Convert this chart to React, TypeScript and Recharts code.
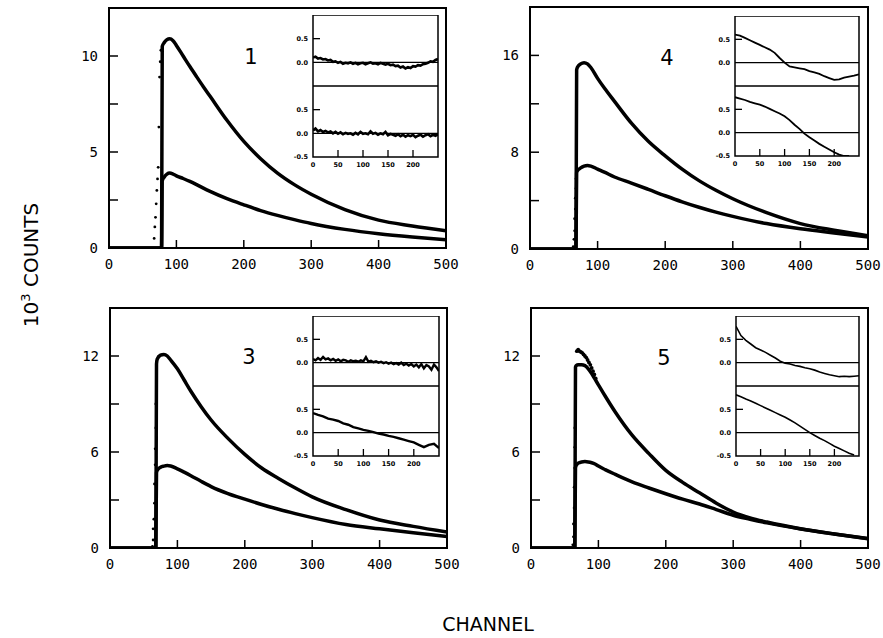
import React from "react";
import { ComposedChart, Line, Scatter, XAxis, YAxis, ReferenceArea, ReferenceLine } from "recharts";

const MONO = "'DejaVu Sans Mono', monospace";
const SANS = "'DejaVu Sans', sans-serif";

const xTicks = [0, 100, 200, 300, 400, 500];
const resTicks = [0, 50, 100, 150, 200];
const resCh10 = [0, 10, 20, 30, 40, 50, 60, 70, 80, 90, 100, 110, 120, 130, 140, 150, 160, 170, 180, 190, 200, 210, 220, 230, 240, 250];
const resCh5 = [
  0, 5, 10, 15, 20, 25, 30, 35, 40, 45, 50, 55, 60, 65, 70, 75, 80, 85, 90, 95, 100, 105, 110, 115, 120, 125,
  130, 135, 140, 145, 150, 155, 160, 165, 170, 175, 180, 185, 190, 195, 200, 205, 210, 215, 220, 225, 230, 235,
  240, 245, 250,
];

// panel 1
const p1Channels = [0, 78, 79, 82, 86, 90, 95, 100, 110, 120, 130, 140, 150, 175, 200, 225, 250, 275, 300, 350, 400, 450, 500];
const p1Upper = [0, 0, 10.5, 10.7, 10.85, 10.9, 10.8, 10.55, 10.0, 9.45, 8.92, 8.4, 7.9, 6.65, 5.55, 4.65, 3.9, 3.3, 2.8, 2.0, 1.45, 1.15, 0.9];
const p1Lower = [0, 0, 3.5, 3.7, 3.85, 3.9, 3.85, 3.76, 3.62, 3.47, 3.3, 3.12, 2.95, 2.57, 2.25, 1.95, 1.7, 1.48, 1.28, 0.97, 0.74, 0.57, 0.43];
const p1RiseCh = [67, 68, 69, 70, 71, 72, 73, 74, 75, 76, 77];
const p1RiseVal = [0.5, 1.1, 1.6, 2.3, 3.0, 3.6, 4.2, 6.3, 8.9, 9.7, 10.3];
const p1ResTop = [
  0.1, 0.12, 0.08, 0.09, 0.06, 0.07, 0.04, 0.05, 0.01, 0.02,
  -0.01, 0.01, -0.03, -0.01, -0.02, 0.0, -0.03, -0.01, -0.04, -0.02,
  -0.01, -0.04, -0.02, 0.0, -0.03, -0.02, -0.04, -0.01, -0.03, -0.05,
  -0.03, -0.06, -0.05, -0.08, -0.07, -0.11, -0.09, -0.13, -0.1, -0.12,
  -0.08, -0.09, -0.06, -0.07, -0.04, -0.03, -0.01, 0.02, 0.01, 0.05, 0.07,
];
const p1ResBottom = [
  0.06, 0.1, 0.04, 0.07, 0.03, 0.05, 0.02, 0.04, 0.0, 0.03,
  -0.01, 0.02, -0.02, 0.01, -0.01, 0.0, -0.03, 0.01, -0.02, 0.03,
  -0.01, 0.0, -0.02, 0.04, -0.01, 0.01, -0.03, 0.0, -0.02, 0.03,
  -0.04, -0.01, -0.03, -0.05, -0.02, -0.06, -0.03, -0.07, -0.04, -0.06,
  -0.03, -0.08, -0.05, -0.03, -0.07, -0.04, -0.02, -0.06, -0.03, -0.05, -0.02,
];

// panel 4
const p4Channels = [0, 68, 69, 70, 75, 80, 85, 90, 100, 110, 125, 150, 175, 200, 225, 250, 275, 300, 350, 400, 450, 500];
const p4Upper = [0, 0, 14.8, 15.0, 15.3, 15.4, 15.3, 15.0, 14.1, 13.3, 12.2, 10.4, 8.9, 7.7, 6.6, 5.65, 4.85, 4.15, 3.0, 2.1, 1.55, 1.1];
const p4Lower = [0, 0, 6.3, 6.45, 6.7, 6.85, 6.9, 6.85, 6.6, 6.35, 5.95, 5.45, 4.93, 4.4, 3.9, 3.45, 3.05, 2.7, 2.1, 1.67, 1.33, 1.0];
const p4RiseCh = [64, 65, 66, 66, 67, 67, 68, 68];
const p4RiseVal = [0.2, 0.8, 1.5, 2.5, 3.3, 4.2, 5.0, 5.8];
const p4ResTop = [0.6, 0.58, 0.53, 0.48, 0.43, 0.38, 0.33, 0.28, 0.21, 0.1, 0.0, -0.08, -0.1, -0.12, -0.14, -0.18, -0.21, -0.24, -0.29, -0.33, -0.37, -0.36, -0.32, -0.3, -0.28, -0.25];
const p4ResBottom = [0.76, 0.73, 0.7, 0.66, 0.63, 0.6, 0.56, 0.51, 0.46, 0.41, 0.35, 0.27, 0.17, 0.08, -0.02, -0.1, -0.17, -0.24, -0.3, -0.36, -0.42, -0.47, -0.5, -0.5];

// panel 3
const p3Channels = [0, 68, 69, 70, 75, 80, 85, 90, 100, 110, 120, 135, 150, 175, 200, 225, 250, 275, 300, 350, 400, 450, 500];
const p3Upper = [0, 0, 11.5, 11.8, 12.05, 12.1, 12.0, 11.75, 11.2, 10.5, 9.8, 8.85, 8.0, 6.85, 5.85, 5.0, 4.35, 3.75, 3.2, 2.4, 1.75, 1.35, 1.0];
const p3Lower = [0, 0, 4.7, 4.85, 5.05, 5.12, 5.15, 5.12, 4.95, 4.74, 4.52, 4.17, 3.84, 3.4, 3.05, 2.72, 2.42, 2.15, 1.9, 1.47, 1.2, 0.95, 0.72];
const p3RiseCh = [63, 64, 64, 65, 66, 66, 67, 67, 68, 68];
const p3RiseVal = [0.1, 0.5, 1.2, 1.8, 2.8, 4.0, 5.2, 6.2, 7.5, 9.0];
const p3ResTop = [
  0.08, 0.05, 0.1, 0.06, 0.12, 0.07, 0.09, 0.05, 0.08, 0.04,
  0.07, 0.03, 0.06, 0.05, 0.02, 0.05, 0.03, 0.04, 0.02, 0.05,
  0.03, 0.12, 0.02, 0.04, 0.01, 0.03, 0.0, 0.02, -0.01, 0.01,
  -0.02, 0.0, -0.03, -0.01, -0.04, 0.0, -0.05, -0.02, -0.06, -0.03,
  -0.08, -0.04, -0.1, -0.03, -0.12, -0.05, -0.08, -0.15, -0.04, -0.1, -0.18,
];
const p3ResBottom = [0.42, 0.38, 0.35, 0.3, 0.28, 0.25, 0.2, 0.17, 0.12, 0.09, 0.06, 0.04, 0.01, -0.02, -0.04, -0.07, -0.09, -0.12, -0.15, -0.18, -0.21, -0.26, -0.31, -0.26, -0.24, -0.33];

// panel 5
const p5Channels = [0, 65, 66, 67, 70, 75, 80, 85, 90, 95, 100, 110, 125, 150, 175, 200, 225, 250, 275, 300, 325, 350, 400, 450, 500];
const p5Upper = [0, 0, 11.3, 11.4, 11.45, 11.45, 11.4, 11.2, 10.9, 10.55, 10.2, 9.5, 8.5, 7.05, 5.9, 4.85, 4.1, 3.45, 2.8, 2.25, 1.88, 1.62, 1.2, 0.88, 0.6];
const p5Lower = [0, 0, 5.0, 5.15, 5.3, 5.38, 5.4, 5.38, 5.33, 5.25, 5.12, 4.9, 4.6, 4.13, 3.75, 3.39, 3.05, 2.75, 2.4, 2.05, 1.8, 1.57, 1.19, 0.87, 0.57];
const p5RiseCh = [62, 63, 63, 64, 64, 65, 65, 65, 66, 66];
const p5RiseVal = [0.2, 0.7, 1.5, 2.5, 3.8, 5.0, 6.3, 7.5, 8.8, 10.0];
const p5PeakCh = [68, 70, 72, 74, 76, 78, 80, 82, 84, 86, 88, 90, 92, 94, 96];
const p5PeakVal = [12.3, 12.4, 12.3, 12.25, 12.2, 12.1, 12.0, 11.9, 11.75, 11.6, 11.45, 11.25, 11.05, 10.85, 10.6];
const p5ResTop = [0.78, 0.58, 0.48, 0.4, 0.32, 0.27, 0.22, 0.16, 0.1, 0.03, -0.01, -0.03, -0.06, -0.08, -0.11, -0.13, -0.16, -0.2, -0.23, -0.26, -0.28, -0.3, -0.29, -0.3, -0.29, -0.28];
const p5ResBottom = [0.81, 0.77, 0.72, 0.68, 0.63, 0.58, 0.53, 0.48, 0.43, 0.38, 0.33, 0.27, 0.21, 0.14, 0.07, 0.0, -0.06, -0.12, -0.17, -0.23, -0.29, -0.34, -0.39, -0.44, -0.48];

function pts(xs: number[], ys: number[]) {
  return ys.map((y, i) => ({ x: xs[i], y }));
}

const SmallDot = (props: any) => <circle cx={props.cx} cy={props.cy} r={1.4} fill="#000" />;
const PeakDot = (props: any) => <circle cx={props.cx} cy={props.cy} r={1.9} fill="#000" />;

type PanelProps = {
  left: number;
  top: number;
  w: number;
  h: number;
  yMax: number;
  yTicks: number[];
  yLabeled: number[];
  channels: number[];
  upper: number[];
  lower: number[];
  riseCh: number[];
  riseVal: number[];
  peakCh?: number[];
  peakVal?: number[];
};

const PAD_L = 50;
const PAD_T = 6;
const PAD_R = 22;
const AX_H = 30;

function Panel(p: PanelProps) {
  const BottomTick = ({ x, y, payload }: any) => (
    <g>
      {payload.value > 0 && payload.value < 500 && (
        <line x1={x} x2={x} y1={y} y2={y - 8} stroke="#000" strokeWidth={1.5} />
      )}
      <text x={x} y={y + 16} dy="0.35em" textAnchor="middle" fontFamily={MONO} fontSize={14} fill="#000">
        {payload.value}
      </text>
    </g>
  );
  const LeftTick = ({ x, y, payload }: any) => (
    <g>
      {payload.value > 0 && <line x1={x} x2={x + 9} y1={y} y2={y} stroke="#000" strokeWidth={1.5} />}
      {p.yLabeled.includes(payload.value) && (
        <text x={x - 11} y={y} dy="0.35em" textAnchor="end" fontFamily={MONO} fontSize={14} fill="#000">
          {payload.value}
        </text>
      )}
    </g>
  );
  return (
    <div style={{ position: "absolute", left: p.left - PAD_L, top: p.top - PAD_T }}>
      <ComposedChart
        width={p.w + PAD_L + PAD_R}
        height={p.h + PAD_T + AX_H}
        margin={{ top: PAD_T, right: PAD_R, left: 0, bottom: 0 }}
      >
        <XAxis
          type="number"
          dataKey="x"
          domain={[0, 500]}
          ticks={xTicks}
          interval={0}
          tickSize={0}
          tickMargin={0}
          axisLine={false}
          tickLine={false}
          tick={BottomTick}
          height={AX_H}
          allowDataOverflow
        />
        <YAxis
          type="number"
          dataKey="y"
          domain={[0, p.yMax]}
          ticks={p.yTicks}
          interval={0}
          tickSize={0}
          tickMargin={0}
          axisLine={false}
          tickLine={false}
          tick={LeftTick}
          width={PAD_L}
          allowDataOverflow
        />
        <ReferenceArea x1={0} x2={500} y1={0} y2={p.yMax} fill="none" stroke="#000" strokeWidth={2} />
        <Line data={pts(p.channels, p.upper)} dataKey="y" type="monotone" stroke="#000" strokeWidth={3.5} dot={false} isAnimationActive={false} />
        <Line data={pts(p.channels, p.lower)} dataKey="y" type="monotone" stroke="#000" strokeWidth={3.5} dot={false} isAnimationActive={false} />
        <Scatter data={pts(p.riseCh, p.riseVal)} dataKey="y" shape={SmallDot} isAnimationActive={false} />
        {p.peakCh && p.peakVal && (
          <Scatter data={pts(p.peakCh, p.peakVal)} dataKey="y" shape={PeakDot} isAnimationActive={false} />
        )}
      </ComposedChart>
    </div>
  );
}

type ResProps = {
  left: number;
  top: number;
  w: number;
  h: number;
  channels: number[];
  values: number[];
  showLabels: boolean;
  yTicks: number[];
  lineW: number;
};

function Residual(r: ResProps) {
  const YW = 26;
  const XH = r.showLabels ? 14 : 0;
  const XTick = ({ x, y, payload }: any) => (
    <g>
      {payload.value > 0 && <line x1={x} x2={x} y1={y} y2={y - 7} stroke="#000" strokeWidth={1.3} />}
      {r.showLabels && (
        <text x={x} y={y + 8} dy="0.35em" textAnchor="middle" fontFamily={SANS} fontSize={6.5} fontWeight={700} fill="#000">
          {payload.value}
        </text>
      )}
    </g>
  );
  const YTick = ({ x, y, payload }: any) => (
    <g>
      {payload.value === 0.5 && <line x1={x} x2={x + 7} y1={y} y2={y} stroke="#000" strokeWidth={1.3} />}
      <text x={x - 5} y={y} dy="0.35em" textAnchor="end" fontFamily={SANS} fontSize={6.5} fontWeight={700} fill="#000">
        {payload.value.toFixed(1)}
      </text>
    </g>
  );
  return (
    <div style={{ position: "absolute", left: r.left - YW, top: r.top }}>
      <ComposedChart width={YW + r.w + 2} height={r.h + XH} margin={{ top: 0, right: 2, left: 0, bottom: 0 }}>
        <XAxis
          type="number"
          dataKey="x"
          domain={[0, 250]}
          ticks={resTicks}
          interval={0}
          tickSize={0}
          tickMargin={0}
          axisLine={false}
          tickLine={false}
          tick={XTick}
          height={XH}
          allowDataOverflow
        />
        <YAxis
          type="number"
          dataKey="y"
          domain={[-0.5, 1]}
          ticks={r.yTicks}
          interval={0}
          tickSize={0}
          tickMargin={0}
          axisLine={false}
          tickLine={false}
          tick={YTick}
          width={YW}
          allowDataOverflow
        />
        <ReferenceArea x1={0} x2={250} y1={-0.5} y2={1} fill="none" stroke="#000" strokeWidth={1.5} />
        <ReferenceLine y={0} stroke="#000" strokeWidth={1.3} />
        <Line data={pts(r.channels, r.values)} dataKey="y" type="linear" stroke="#000" strokeWidth={r.lineW} dot={false} isAnimationActive={false} />
      </ComposedChart>
    </div>
  );
}

function Inset({ left, top, w, h, ch1, top1, ch2, bottom2, lineW }: any) {
  return (
    <>
      <Residual left={left} top={top} w={w} h={h} channels={ch1} values={top1} showLabels={false} yTicks={[0, 0.5]} lineW={lineW} />
      <Residual left={left} top={top + h} w={w} h={h} channels={ch2} values={bottom2} showLabels yTicks={[-0.5, 0, 0.5]} lineW={lineW} />
    </>
  );
}

const Tag = ({ x, y, text }: { x: number; y: number; text: string }) => (
  <div
    style={{
      position: "absolute",
      left: x,
      top: y,
      transform: "translate(-50%, -50%)",
      fontFamily: SANS,
      fontSize: 21,
      lineHeight: 1,
    }}
  >
    {text}
  </div>
);

export default function App() {
  return (
    <div style={{ position: "absolute", left: 0, top: 0, width: 883, height: 638, background: "#fff", overflow: "hidden" }}>
      <Panel left={109} top={8} w={337} h={240} yMax={12.5} yTicks={[0, 2.5, 5, 7.5, 10]} yLabeled={[0, 5, 10]}
        channels={p1Channels} upper={p1Upper} lower={p1Lower} riseCh={p1RiseCh} riseVal={p1RiseVal} />
      <Panel left={530} top={7} w={338} h={242} yMax={20} yTicks={[0, 4, 8, 12, 16]} yLabeled={[0, 8, 16]}
        channels={p4Channels} upper={p4Upper} lower={p4Lower} riseCh={p4RiseCh} riseVal={p4RiseVal} />
      <Panel left={110} top={308} w={337} h={240} yMax={15} yTicks={[0, 3, 6, 9, 12]} yLabeled={[0, 6, 12]}
        channels={p3Channels} upper={p3Upper} lower={p3Lower} riseCh={p3RiseCh} riseVal={p3RiseVal} />
      <Panel left={531} top={308} w={337} h={240} yMax={15} yTicks={[0, 3, 6, 9, 12]} yLabeled={[0, 6, 12]}
        channels={p5Channels} upper={p5Upper} lower={p5Lower} riseCh={p5RiseCh} riseVal={p5RiseVal}
        peakCh={p5PeakCh} peakVal={p5PeakVal} />

      <Inset left={313} top={15} w={125} h={71} ch1={resCh5} top1={p1ResTop} ch2={resCh5} bottom2={p1ResBottom} lineW={2.6} />
      <Inset left={735} top={16} w={124} h={70} ch1={resCh10} top1={p4ResTop} ch2={resCh10} bottom2={p4ResBottom} lineW={1.8} />
      <Inset left={313} top={316} w={126} h={70} ch1={resCh5} top1={p3ResTop} ch2={resCh10} bottom2={p3ResBottom} lineW={2.4} />
      <Inset left={736} top={316} w={123} h={70} ch1={resCh10} top1={p5ResTop} ch2={resCh10} bottom2={p5ResBottom} lineW={1.6} />

      <Tag x={251} y={57} text="1" />
      <Tag x={667} y={58} text="4" />
      <Tag x={249} y={357} text="3" />
      <Tag x={664} y={358} text="5" />

      <div
        style={{
          position: "absolute",
          left: 30,
          top: 265,
          transform: "translate(-50%, -50%) rotate(-90deg)",
          fontFamily: SANS,
          fontSize: 20,
          whiteSpace: "nowrap",
          lineHeight: 1,
        }}
      >
        10<sup style={{ fontSize: 13 }}>3</sup> COUNTS
      </div>
      <div
        style={{
          position: "absolute",
          left: 488,
          top: 624,
          transform: "translate(-50%, -50%)",
          fontFamily: SANS,
          fontSize: 19,
          whiteSpace: "nowrap",
          lineHeight: 1,
        }}
      >
        CHANNEL
      </div>
    </div>
  );
}
